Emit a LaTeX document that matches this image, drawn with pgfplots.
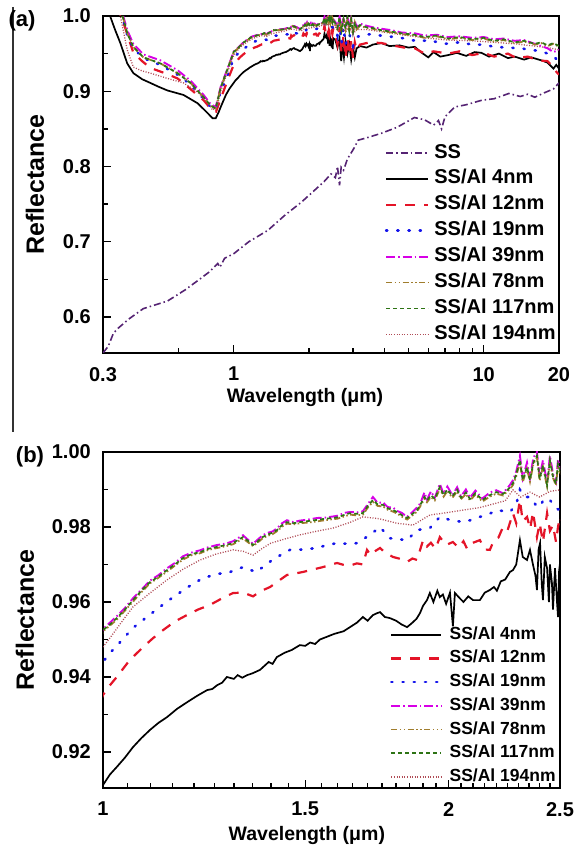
\documentclass[border=0pt]{standalone}
\usepackage{fontspec}
\setmainfont{Liberation Sans}
\usepackage{pgfplots}
\pgfplotsset{compat=1.18}
\usepackage{pgfplotstable}

\definecolor{cSS}{RGB}{85,35,115}
\definecolor{cA}{RGB}{0,0,0}
\definecolor{cB}{RGB}{228,20,40}
\definecolor{cC}{RGB}{20,20,235}
\definecolor{cD}{RGB}{215,0,230}
\definecolor{cE}{RGB}{160,125,45}
\definecolor{cF}{RGB}{45,115,20}
\definecolor{cG}{RGB}{175,75,85}

\tikzset{
  sSS/.style={cSS, line width=1.6bp, dash pattern=on 7bp off 3bp on 1.5bp off 3bp},
  s4/.style={cA, line width=1.7bp, solid},
  s12/.style={cB, line width=2.2bp, dash pattern=on 10bp off 9bp},
  s19/.style={cC, line width=2.6bp, line cap=round, dash pattern=on 1.2bp off 10bp},
  s39/.style={cD, line width=1.9bp, dash pattern=on 9bp off 3bp on 1.5bp off 3bp},
  s78/.style={cE, line width=1.8bp, dash pattern=on 6bp off 2.5bp on 1.5bp off 2.5bp on 1.5bp off 2.5bp},
  s117/.style={cF, line width=1.7bp, dash pattern=on 4bp off 3bp},
  s194/.style={cG, line width=1.3bp, dash pattern=on 1bp off 1.6bp},
}

\pgfplotstableread{
x y
0.300 0.552
0.315 0.561
0.330 0.578
0.345 0.585
0.380 0.597
0.435 0.611
0.543 0.621
0.640 0.636
0.737 0.651
0.800 0.660
0.863 0.671
0.880 0.666
0.920 0.678
1.000 0.684
1.150 0.700
1.369 0.715
1.600 0.735
1.858 0.752
2.100 0.768
2.300 0.780
2.450 0.790
2.550 0.785
2.600 0.800
2.650 0.775
2.690 0.799
2.750 0.795
2.850 0.810
3.000 0.822
3.150 0.835
3.400 0.838
3.890 0.844
4.500 0.852
5.280 0.865
5.800 0.862
6.300 0.855
6.590 0.861
6.780 0.850
7.000 0.866
7.650 0.879
8.500 0.882
9.820 0.888
11.00 0.890
12.60 0.897
14.00 0.893
15.00 0.896
16.00 0.892
17.50 0.898
19.00 0.903
20.00 0.911
}\tSS

\pgfplotstableread{
x y
0.300 1.060
0.321 0.999
0.335 0.982
0.352 0.964
0.375 0.937
0.397 0.924
0.430 0.916
0.464 0.911
0.500 0.906
0.543 0.901
0.630 0.895
0.717 0.884
0.786 0.871
0.823 0.864
0.847 0.864
0.870 0.872
0.887 0.879
0.930 0.895
0.960 0.903
1.000 0.9112
1.014 0.9140
1.028 0.9160
1.045 0.9185
1.062 0.9213
1.080 0.9237
1.099 0.9259
1.118 0.9278
1.137 0.9293
1.160 0.9315
1.184 0.9333
1.208 0.9350
1.232 0.9365
1.245 0.9368
1.257 0.9378
1.270 0.9385
1.282 0.9400
1.300 0.9395
1.310 0.9405
1.322 0.9398
1.335 0.9405
1.350 0.9410
1.370 0.9419
1.394 0.9440
1.405 0.9435
1.417 0.9453
1.440 0.9465
1.460 0.9472
1.484 0.9485
1.500 0.9483
1.515 0.9492
1.530 0.9488
1.545 0.9500
1.560 0.9505
1.590 0.9515
1.620 0.9522
1.641 0.9533
1.664 0.9545
1.684 0.9560
1.700 0.9550
1.718 0.9565
1.732 0.9570
1.743 0.9573
1.760 0.9560
1.778 0.9557
1.800 0.9550
1.820 0.9540
1.840 0.9533
1.860 0.9545
1.875 0.9555
1.888 0.9570
1.900 0.9590
1.915 0.9605
1.926 0.9624
1.940 0.9600
1.955 0.9630
1.965 0.9613
1.977 0.9620
1.990 0.9595
2.005 0.9625
2.017 0.9535
2.025 0.9624
2.045 0.9610
2.060 0.9600
2.080 0.9615
2.100 0.9605
2.129 0.9605
2.150 0.9625
2.172 0.9632
2.190 0.9640
2.203 0.9630
2.220 0.9655
2.240 0.9660
2.261 0.9680
2.275 0.9685
2.290 0.9700
2.307 0.9765
2.320 0.9720
2.340 0.9712
2.354 0.9739
2.368 0.9700
2.380 0.9670
2.387 0.9632
2.395 0.9740
2.402 0.9757
2.410 0.9650
2.416 0.9605
2.425 0.9720
2.436 0.9690
2.445 0.9600
2.450 0.9700
2.460 0.9650
2.465 0.9580
2.475 0.9690
2.485 0.9600
2.490 0.9560
2.495 0.9680
2.500 0.9704
2.550 0.968
2.600 0.958
2.650 0.970
2.690 0.940
2.720 0.962
2.760 0.945
2.800 0.966
2.850 0.950
2.900 0.962
2.950 0.942
3.000 0.958
3.050 0.945
3.100 0.957
3.200 0.960
3.400 0.958
3.600 0.962
3.900 0.964
4.200 0.960
4.600 0.961
5.000 0.958
5.300 0.959
5.600 0.952
6.000 0.945
6.300 0.952
6.700 0.946
7.200 0.948
7.800 0.951
8.500 0.947
9.200 0.952
9.800 0.951
10.50 0.946
11.50 0.950
12.50 0.944
13.30 0.946
14.50 0.942
15.50 0.945
17.00 0.941
18.00 0.938
19.00 0.930
19.50 0.935
20.00 0.930
}\tFour

\pgfplotstableread{
x y
0.300 1.060
0.355 1.000
0.380 0.970
0.397 0.951
0.430 0.940
0.464 0.931
0.530 0.924
0.596 0.917
0.660 0.905
0.715 0.895
0.758 0.888
0.808 0.877
0.850 0.873
0.887 0.890
0.946 0.915
1.000 0.9352
1.014 0.9378
1.028 0.9400
1.055 0.9445
1.084 0.9480
1.105 0.9503
1.128 0.9525
1.155 0.9548
1.183 0.9565
1.210 0.9580
1.239 0.9592
1.270 0.9610
1.298 0.9624
1.325 0.9625
1.351 0.9615
1.370 0.9628
1.398 0.9640
1.420 0.9655
1.446 0.9672
1.470 0.9676
1.493 0.9680
1.520 0.9686
1.554 0.9693
1.580 0.9700
1.599 0.9704
1.620 0.9699
1.640 0.9697
1.664 0.9703
1.684 0.9700
1.698 0.9739
1.710 0.9725
1.720 0.9733
1.743 0.9744
1.760 0.9732
1.789 0.9720
1.810 0.9716
1.840 0.9707
1.860 0.9716
1.877 0.9712
1.900 0.9765
1.915 0.9748
1.930 0.9758
1.948 0.9742
1.965 0.9773
1.990 0.9752
2.017 0.9760
2.040 0.9745
2.060 0.9762
2.075 0.9742
2.100 0.9758
2.129 0.9765
2.150 0.9740
2.172 0.9739
2.190 0.9765
2.210 0.9772
2.230 0.9800
2.250 0.9790
2.275 0.9837
2.290 0.9810
2.307 0.9872
2.320 0.9815
2.340 0.9827
2.355 0.9795
2.368 0.9840
2.387 0.9773
2.400 0.9810
2.416 0.9760
2.436 0.9837
2.450 0.9790
2.465 0.9805
2.480 0.9760
2.490 0.9800
2.500 0.9827
2.550 0.975
2.600 0.962
2.650 0.985
2.700 0.950
2.750 0.975
2.800 0.944
2.850 0.970
2.900 0.948
2.950 0.968
3.000 0.944
3.050 0.965
3.100 0.955
3.200 0.962
3.500 0.965
3.900 0.964
4.300 0.961
4.800 0.958
5.300 0.957
5.800 0.950
6.300 0.953
7.200 0.950
8.000 0.953
9.000 0.948
10.00 0.951
11.00 0.946
12.50 0.950
13.50 0.944
15.00 0.946
16.50 0.941
18.00 0.940
19.00 0.932
19.60 0.925
20.00 0.922
}\tTwelve

\pgfplotstableread{
x y
0.300 1.060
0.358 1.000
0.375 0.975
0.397 0.957
0.435 0.944
0.509 0.935
0.596 0.922
0.672 0.909
0.758 0.890
0.808 0.879
0.847 0.876
0.887 0.900
0.946 0.922
1.000 0.9440
1.014 0.9464
1.035 0.9493
1.062 0.9531
1.092 0.9560
1.121 0.9587
1.151 0.9613
1.186 0.9640
1.222 0.9664
1.260 0.9675
1.290 0.9680
1.324 0.9693
1.345 0.9685
1.362 0.9680
1.384 0.9699
1.418 0.9720
1.455 0.9739
1.493 0.9740
1.536 0.9744
1.567 0.9752
1.599 0.9757
1.640 0.9755
1.664 0.9757
1.708 0.9779
1.743 0.9800
1.760 0.9785
1.778 0.9770
1.800 0.9768
1.840 0.9765
1.877 0.9792
1.926 0.9797
1.965 0.9827
2.000 0.9820
2.058 0.9813
2.100 0.9820
2.129 0.9827
2.170 0.9835
2.203 0.9845
2.261 0.9840
2.290 0.9860
2.307 0.9899
2.330 0.9880
2.354 0.9880
2.380 0.9860
2.402 0.9853
2.420 0.9875
2.450 0.9872
2.480 0.9850
2.500 0.9845
2.550 0.985
2.600 0.974
2.650 0.990
2.700 0.964
2.750 0.985
2.800 0.962
2.900 0.976
3.000 0.960
3.100 0.972
3.300 0.975
3.600 0.976
4.000 0.973
4.500 0.972
5.000 0.969
5.500 0.966
6.000 0.968
7.000 0.963
8.000 0.965
9.000 0.962
10.00 0.962
11.00 0.959
12.50 0.958
14.00 0.957
15.50 0.955
17.00 0.953
18.00 0.950
19.00 0.946
20.00 0.940
}\tNineteen

\pgfplotstableread{
x y
0.300 1.060
0.352 1.000
0.375 0.955
0.397 0.932
0.430 0.927
0.464 0.924
0.543 0.917
0.630 0.911
0.717 0.899
0.786 0.885
0.823 0.875
0.860 0.880
0.887 0.900
0.946 0.926
1.000 0.9480
1.014 0.9504
1.040 0.9550
1.062 0.9587
1.100 0.9625
1.137 0.9659
1.175 0.9688
1.215 0.9712
1.255 0.9728
1.298 0.9739
1.325 0.9735
1.351 0.9725
1.375 0.9742
1.400 0.9757
1.440 0.9768
1.484 0.9779
1.536 0.9789
1.586 0.9797
1.640 0.9812
1.684 0.9827
1.740 0.9822
1.803 0.9810
1.862 0.9805
1.926 0.9832
1.990 0.9838
2.058 0.9845
2.130 0.9852
2.203 0.9864
2.240 0.9870
2.275 0.9899
2.310 0.9880
2.354 0.9893
2.400 0.9880
2.450 0.9895
2.500 0.9899
2.550 0.986
2.600 0.980
2.700 0.984
2.800 0.979
2.900 0.985
3.000 0.976
3.100 0.982
3.400 0.982
3.900 0.979
4.700 0.975
5.800 0.971
7.200 0.968
9.000 0.967
11.00 0.965
13.30 0.963
16.00 0.960
18.00 0.958
20.00 0.955
}\tOneNineFour

\pgfplotstableread{
x g m o
0.300 1.060 1.060 1.060
0.3616 0.997 1.000 0.997
0.3753 0.977 0.981 0.977
0.3967 0.959 0.963 0.959
0.435 0.945 0.949 0.945
0.509 0.937 0.941 0.937
0.596 0.924 0.928 0.924
0.672 0.911 0.914 0.911
0.758 0.892 0.895 0.892
0.808 0.881 0.883 0.881
0.847 0.877 0.879 0.877
0.887 0.905 0.906 0.905
0.946 0.930 0.931 0.930
1.000 0.9525 0.9528 0.9522
1.014 0.9540 0.9545 0.9537
1.028 0.9557 0.9562 0.9553
1.045 0.9580 0.9584 0.9577
1.062 0.9605 0.9610 0.9601
1.080 0.9630 0.9633 0.9626
1.099 0.9653 0.9657 0.9650
1.118 0.9668 0.9672 0.9665
1.137 0.9685 0.9690 0.9681
1.155 0.9700 0.9704 0.9697
1.174 0.9717 0.9722 0.9713
1.195 0.9728 0.9732 0.9725
1.215 0.9733 0.9738 0.9730
1.235 0.9742 0.9746 0.9739
1.257 0.9747 0.9752 0.9744
1.280 0.9752 0.9756 0.9749
1.298 0.9757 0.9762 0.9754
1.310 0.9765 0.9770 0.9761
1.324 0.9773 0.9778 0.9769
1.335 0.9765 0.9768 0.9761
1.351 0.9752 0.9755 0.9749
1.362 0.9760 0.9765 0.9757
1.375 0.9772 0.9776 0.9768
1.389 0.9779 0.9784 0.9776
1.405 0.9785 0.9788 0.9781
1.418 0.9792 0.9797 0.9789
1.432 0.9805 0.9810 0.9801
1.446 0.9813 0.9818 0.9809
1.465 0.9810 0.9813 0.9807
1.484 0.9813 0.9817 0.9810
1.510 0.9816 0.9820 0.9812
1.536 0.9819 0.9824 0.9815
1.560 0.9822 0.9825 0.9818
1.586 0.9824 0.9828 0.9821
1.600 0.9826 0.9830 0.9822
1.625 0.9833 0.9838 0.9829
1.641 0.9837 0.9840 0.9833
1.664 0.9835 0.9839 0.9831
1.684 0.9837 0.9842 0.9833
1.700 0.9855 0.9860 0.9851
1.718 0.9872 0.9880 0.9867
1.735 0.9860 0.9864 0.9856
1.753 0.9859 0.9866 0.9855
1.770 0.9850 0.9853 0.9846
1.789 0.9845 0.9852 0.9841
1.803 0.9840 0.9843 0.9836
1.820 0.9832 0.9838 0.9828
1.840 0.9824 0.9827 0.9820
1.860 0.9835 0.9840 0.9831
1.877 0.9845 0.9852 0.9841
1.890 0.9860 0.9864 0.9856
1.905 0.9880 0.9892 0.9875
1.915 0.9870 0.9873 0.9866
1.930 0.9885 0.9895 0.9880
1.945 0.9875 0.9878 0.9871
1.965 0.9907 0.9915 0.9902
1.980 0.9885 0.9888 0.9881
1.995 0.9900 0.9908 0.9896
2.015 0.9882 0.9885 0.9878
2.034 0.9899 0.9906 0.9895
2.050 0.9878 0.9882 0.9874
2.070 0.9892 0.9900 0.9888
2.087 0.9875 0.9878 0.9871
2.110 0.9890 0.9897 0.9886
2.140 0.9872 0.9876 0.9868
2.172 0.9885 0.9892 0.9881
2.200 0.9893 0.9898 0.9889
2.230 0.9888 0.9890 0.9884
2.261 0.9905 0.9912 0.9901
2.275 0.9917 0.9925 0.9912
2.290 0.9940 0.9948 0.9935
2.307 0.9979 0.9990 0.9974
2.320 0.9925 0.9930 0.9920
2.340 0.9960 0.9972 0.9955
2.354 0.9925 0.9930 0.9921
2.370 0.9972 0.9985 0.9968
2.387 0.9990 1.0000 0.9985
2.400 0.9928 0.9935 0.9924
2.416 0.9965 0.9978 0.9960
2.436 0.9912 0.9918 0.9908
2.450 0.9978 0.9990 0.9973
2.465 0.9935 0.9942 0.9931
2.480 0.9915 0.9920 0.9911
2.490 0.9968 0.9980 0.9963
2.500 0.9950 0.9958 0.9946
2.550 0.990 0.992 0.989
2.600 0.984 0.986 0.983
2.650 0.998 0.999 0.997
2.700 0.981 0.983 0.980
2.750 0.996 0.998 0.995
2.800 0.983 0.985 0.982
2.850 0.999 1.000 0.998
2.900 0.980 0.982 0.979
2.950 0.996 0.998 0.995
3.000 0.978 0.980 0.977
3.050 0.992 0.994 0.991
3.100 0.983 0.985 0.982
3.200 0.988 0.990 0.987
3.400 0.985 0.987 0.984
3.600 0.984 0.985 0.983
3.900 0.981 0.983 0.980
4.300 0.979 0.981 0.978
4.700 0.977 0.978 0.976
5.300 0.975 0.977 0.974
5.800 0.972 0.974 0.971
6.500 0.974 0.975 0.973
7.200 0.970 0.972 0.969
8.000 0.972 0.973 0.971
9.000 0.969 0.971 0.968
10.00 0.971 0.972 0.970
11.00 0.967 0.969 0.966
12.00 0.969 0.970 0.968
13.30 0.965 0.967 0.964
14.50 0.967 0.968 0.966
16.00 0.963 0.963 0.962
17.00 0.965 0.960 0.964
18.00 0.961 0.957 0.960
19.00 0.964 0.952 0.963
20.00 0.960 0.955 0.959
}\tGroup

\pgfplotsset{
  myaxis/.style={
    scale only axis, tick pos=left, tick align=inside,
    major tick length=8bp, minor tick length=5bp,
    axis line style={line width=1.6bp},
    every tick/.style={black, line width=1.4bp},
    /pgf/number format/assume math mode=true,
    every tick label/.append style={font=\fontsize{20bp}{20bp}\selectfont\bfseries, inner sep=0pt},
    yticklabel style={xshift=-12bp},
    xticklabel style={yshift=-14bp},
    legend cell align=left,
  }
}

\begin{document}
\begin{tikzpicture}
\path[use as bounding box] (0,0) rectangle (584bp,853bp);
\draw[black!80, line width=1.2bp] (13bp,846bp) -- (13bp,421bp);
\node[font=\fontsize{22bp}{22bp}\selectfont\bfseries] at (22bp,832bp) {(a)};
\node[font=\fontsize{22bp}{22bp}\selectfont\bfseries] at (30bp,396bp) {(b)};

\begin{axis}[myaxis,
  at={(103bp,500bp)}, anchor=south west,
  width=456bp, height=337bp,
  xmode=log, xmin=0.3, xmax=20, ymin=0.552, ymax=1.0,
  xtick={0.3,1,10,20}, xticklabels={0.3,1,10,20},
  minor xtick={0.6,2,3,4,5,6,7,8,9},
  ytick={0.6,0.7,0.8,0.9,1.0}, yticklabels={0.6,0.7,0.8,0.9,1.0},
  minor ytick={0.65,0.75,0.85,0.95},
  xlabel={Wavelength (μm)}, ylabel={Reflectance},
  every axis x label/.style={at={(axis description cs:0.443,-0.1306)}, anchor=center, font=\fontsize{19.5bp}{19.5bp}\selectfont\bfseries},
  every axis y label/.style={at={(axis description cs:-0.149,0.5)}, rotate=90, anchor=center, font=\fontsize{25bp}{25bp}\selectfont\bfseries},
  legend style={at={(0.618,0.620)}, anchor=north west, draw=none, fill=none,
    inner sep=0pt, outer sep=0pt, row sep=7.9bp, column sep=5bp,
    font=\fontsize{20bp}{20bp}\selectfont\bfseries,
    nodes={inner sep=0pt, text height=14bp, text depth=4bp}},
  legend image code/.code={\draw[#1] (0bp,0bp) -- (42bp,0bp);},
]
\addplot[sSS, forget plot] table[x=x,y=y] {\tSS};
\addplot[s4, forget plot] table[x=x,y=y] {\tFour};
\addplot[s12, forget plot] table[x=x,y=y] {\tTwelve};
\addplot[s19, forget plot] table[x=x,y=y] {\tNineteen};
\addplot[s194, forget plot] table[x=x,y=y] {\tOneNineFour};
\addplot[s39, forget plot] table[x=x,y=m] {\tGroup};
\addplot[s78, forget plot] table[x=x,y=o] {\tGroup};
\addplot[s117, forget plot] table[x=x,y=g] {\tGroup};
\addlegendimage{sSS}\addlegendentry{SS}
\addlegendimage{s4}\addlegendentry{SS/Al 4nm}
\addlegendimage{s12}\addlegendentry{SS/Al 12nm}
\addlegendimage{s19}\addlegendentry{SS/Al 19nm}
\addlegendimage{s39}\addlegendentry{SS/Al 39nm}
\addlegendimage{s78}\addlegendentry{SS/Al 78nm}
\addlegendimage{s117}\addlegendentry{SS/Al 117nm}
\addlegendimage{s194}\addlegendentry{SS/Al 194nm}
\end{axis}

\begin{axis}[myaxis,
  at={(103bp,65bp)}, anchor=south west,
  width=457bp, height=336bp,
  xmode=log, xmin=1, xmax=2.5, ymin=0.9104, ymax=1.0,
  xtick={1,1.5,2,2.5}, xticklabels={1,1.5,2,2.5},
  minor xtick={1.05,1.1,1.15,1.2,1.25,1.3,1.35,1.4,1.45,1.55,1.6,1.65,1.7,1.75,1.8,1.85,1.9,1.95,2.05,2.1,2.15,2.2,2.25,2.3,2.35,2.4,2.45},
  ytick={0.92,0.94,0.96,0.98,1.0}, yticklabels={0.92,0.94,0.96,0.98,1.00},
  minor ytick={0.93,0.95,0.97,0.99},
  xlabel={Wavelength (μm)}, ylabel={Reflectance},
  every axis x label/.style={at={(axis description cs:0.446,-0.140)}, anchor=center, font=\fontsize{19.5bp}{19.5bp}\selectfont\bfseries},
  every axis y label/.style={at={(axis description cs:-0.1707,0.5)}, rotate=90, anchor=center, font=\fontsize{25bp}{25bp}\selectfont\bfseries},
  legend style={at={(0.628,0.480)}, anchor=north west, draw=none, fill=none,
    inner sep=0pt, outer sep=0pt, row sep=7.7bp, column sep=7bp,
    font=\fontsize{17.5bp}{17.5bp}\selectfont\bfseries,
    nodes={inner sep=0pt, text height=12.5bp, text depth=3.5bp}},
  legend image code/.code={\draw[#1] (0bp,0bp) -- (50bp,0bp);},
]
\addplot[s4, forget plot] table[x=x,y=y] {\tFour};
\addplot[s12, forget plot] table[x=x,y=y] {\tTwelve};
\addplot[s19, forget plot] table[x=x,y=y] {\tNineteen};
\addplot[s194, forget plot] table[x=x,y=y] {\tOneNineFour};
\addplot[s39, forget plot] table[x=x,y=m] {\tGroup};
\addplot[s78, forget plot] table[x=x,y=o] {\tGroup};
\addplot[s117, forget plot] table[x=x,y=g] {\tGroup};
\addlegendimage{s4}\addlegendentry{SS/Al 4nm}
\addlegendimage{s12}\addlegendentry{SS/Al 12nm}
\addlegendimage{s19}\addlegendentry{SS/Al 19nm}
\addlegendimage{s39}\addlegendentry{SS/Al 39nm}
\addlegendimage{s78}\addlegendentry{SS/Al 78nm}
\addlegendimage{s117}\addlegendentry{SS/Al 117nm}
\addlegendimage{s194}\addlegendentry{SS/Al 194nm}
\end{axis}
\end{tikzpicture}
\end{document}
